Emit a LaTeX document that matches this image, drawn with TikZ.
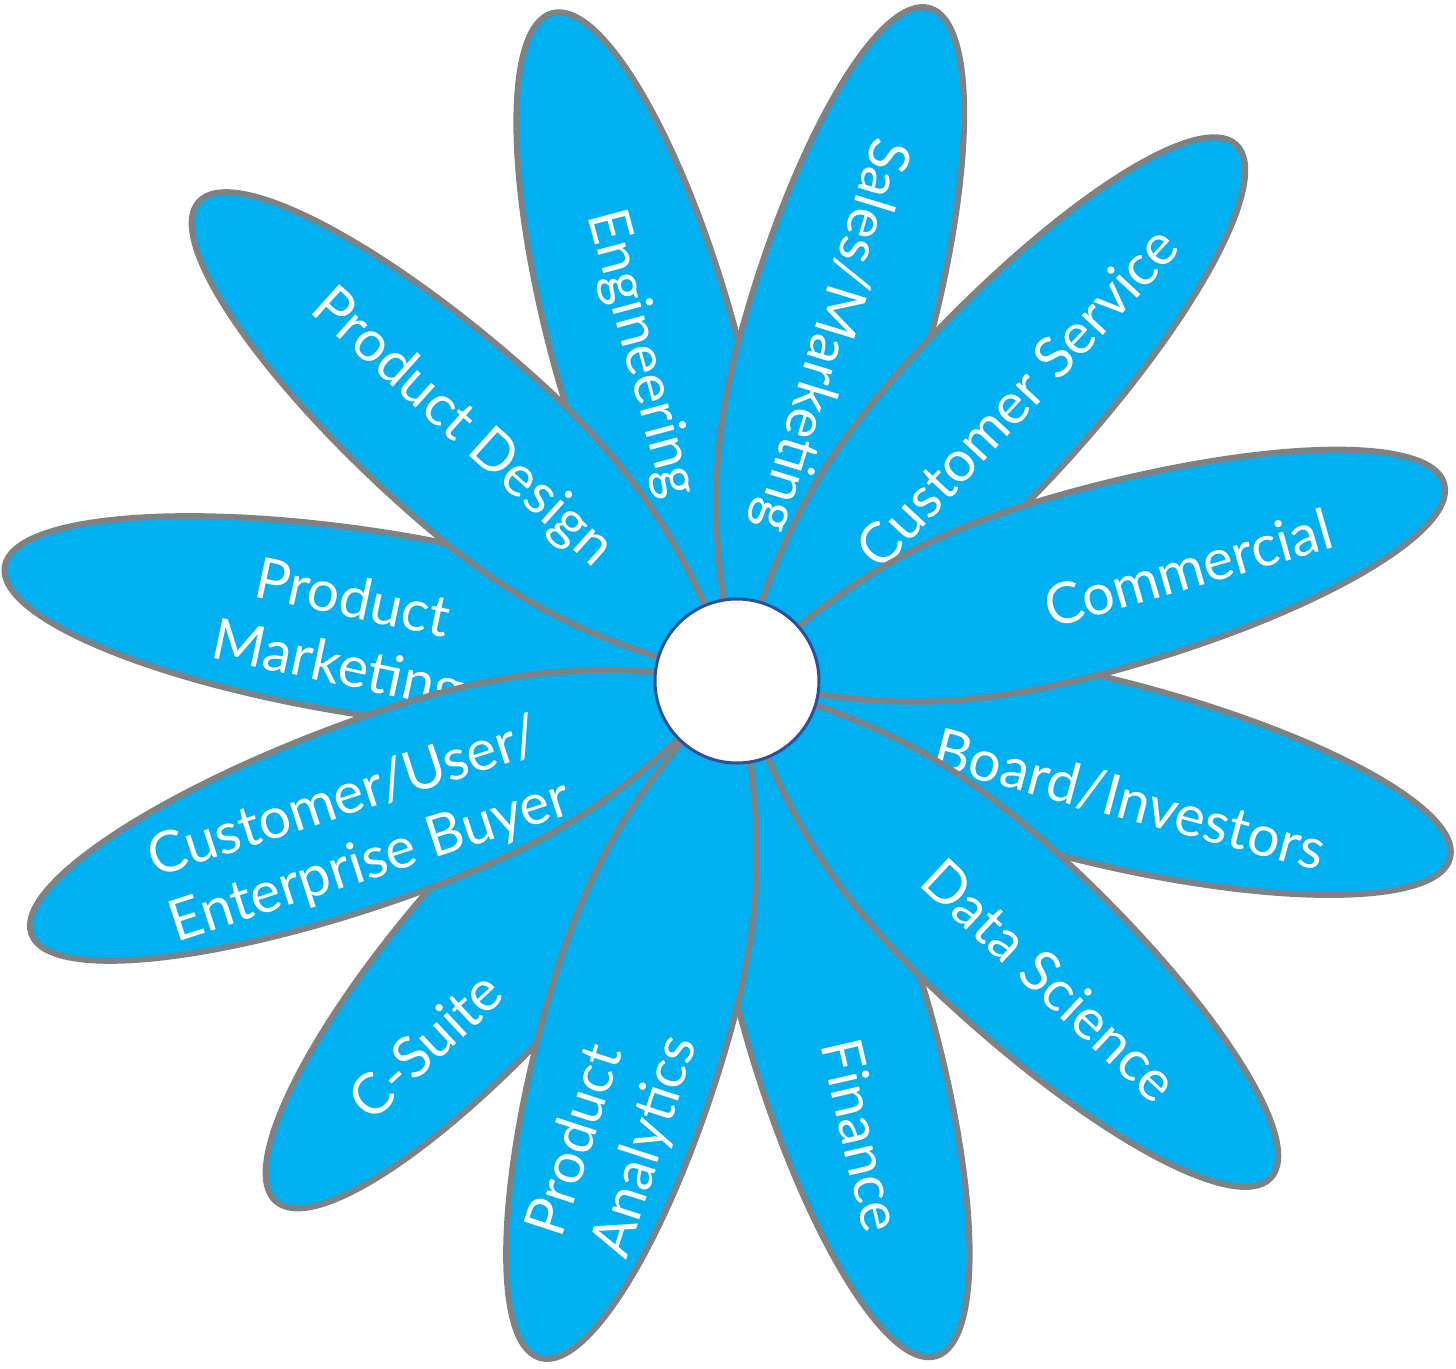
\documentclass[tikz,border=0pt]{standalone}
\usepackage{fontspec}
\setmainfont{Lato}
\definecolor{petalBlue}{HTML}{00B0F0}
\definecolor{petalGrey}{HTML}{7F8285}
\definecolor{hubNavy}{HTML}{2F4F9A}

\tikzset{
  petalline/.style={fill=petalBlue, draw=petalGrey, line width=6pt, line join=round},
  pics/petal/.style={code={
    \draw[petalline] (0,0) .. controls (120,60) and (200,92) .. ({#1/2},92)
      .. controls ({0.776*#1},92) and (#1,51) .. (#1,0)
      .. controls (#1,-51) and ({0.776*#1},-92) .. ({#1/2},-92)
      .. controls (200,-92) and (120,-60) .. cycle;
  }},
  petaltext/.style={text=white, font=\fontsize{57}{68}\selectfont, align=center, inner sep=0pt},
  hub/.style={circle, fill=white, draw=hubNavy, line width=3pt, minimum size=164pt, inner sep=0pt}
}

\begin{document}
\begin{tikzpicture}[x=1pt, y=1pt]
\useasboundingbox (-737,-688) rectangle (719,680);
% petals, back to front
\pic[rotate=105.5] {petal=692};
\node[petaltext, rotate=-75] (engineering) at (-96,326) {Engineering};
\pic[rotate=74] {petal=699};
\node[petaltext, rotate=-107] (sales) at (93,345) {Sales/Marketing};
\pic[rotate=-14] {petal=735};
\node[petaltext, rotate=-15] (board) at (393,-120) {Board/Investors};
\pic[rotate=-73.6] {petal=705};
\node[petaltext, rotate=-77] (finance) at (125,-455) {Finance};
\pic[rotate=-131.5] {petal=696};
\node[petaltext, rotate=43] (csuite) at (-312,-365) {C-Suite};
\pic[rotate=171.2] {petal=741};
\node[petaltext, rotate=-12] (prodmarketing) at (-392,45) {Product\\Marketing};
\pic[rotate=47] {petal=732};
\node[petaltext, rotate=47] (custservice) at (280,283) {Customer Service};
\pic[rotate=-106.2] {petal=706};
\node[petaltext, rotate=72, align=left] (analytics) at (-123,-456) {Product\\Analytics};
\pic[rotate=-43] {petal=730};
\node[petaltext, rotate=-43] (datascience) at (313,-300) {Data Science};
\pic[rotate=-160.2] {petal=750};
\node[petaltext, rotate=18, align=left] (buyer) at (-377,-150) {Customer/User/\\Enterprise Buyer};
\pic[rotate=138.4] {petal=720};
\node[petaltext, rotate=-42] (design) at (-275,252) {Product Design};
\pic[rotate=15.5] {petal=734};
\node[petaltext, rotate=16] (commercial) at (451,112) {Commercial};
% centre disc
\node[hub] (hub) at (0,-1) {};
\end{tikzpicture}
\end{document}
